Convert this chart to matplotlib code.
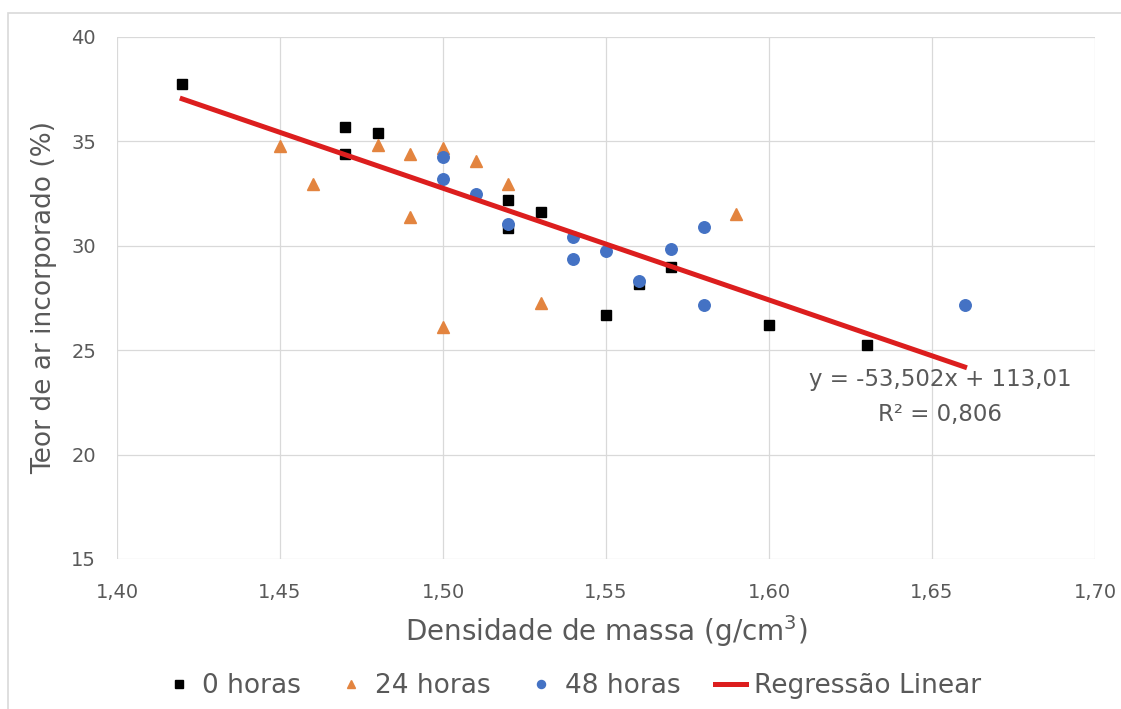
import numpy as np
import matplotlib
matplotlib.use('Agg')
import matplotlib.pyplot as plt
from matplotlib.patches import Rectangle

plt.rcParams['font.family'] = ['DejaVu Sans']

# 0 horas
x0 = [1.42, 1.47, 1.47, 1.48, 1.52, 1.52, 1.53, 1.55, 1.56, 1.57, 1.60, 1.63]
y0 = [37.75, 35.7, 34.4, 35.4, 32.2, 30.85, 31.6, 26.7, 28.15, 29.0, 26.2, 25.25]

# 24 horas
x24 = [1.45, 1.46, 1.48, 1.49, 1.49, 1.50, 1.50, 1.51, 1.52, 1.53, 1.59]
y24 = [34.8, 32.95, 34.85, 34.4, 31.4, 34.7, 26.1, 34.05, 32.95, 27.25, 31.5]

# 48 horas
x48 = [1.50, 1.50, 1.51, 1.52, 1.54, 1.54, 1.55, 1.56, 1.57, 1.58, 1.58, 1.66]
y48 = [34.25, 33.2, 32.5, 31.05, 30.4, 29.35, 29.75, 28.3, 29.85, 30.9, 27.15, 27.15]

# regressao
slope = -53.502
intercept = 113.01
x_reg = np.array([1.42, 1.66])
y_reg = slope * x_reg + intercept

xticks = [1.40, 1.45, 1.50, 1.55, 1.60, 1.65, 1.70]
yticks = [15, 20, 25, 30, 35, 40]

grey = '#595959'
grid = '#D9D9D9'

fig = plt.figure(figsize=(11.21, 7.09), dpi=100)
ax = fig.add_axes([117/1121, 1 - 559/709, (1095-117)/1121, (559-37)/709])

# borda externa do grafico
fig.patches.append(Rectangle((8/1121, -0.1), 1.2, 0.1 + (709-13)/709,
                             transform=fig.transFigure, fill=False,
                             edgecolor=grid, linewidth=1.2))

ax.plot(x0, y0, 's', color='black', markersize=7.8, label='0 horas', zorder=3)
ax.plot(x24, y24, '^', color='#E3843F', markersize=8.8, label='24 horas', zorder=3)
ax.plot(x48, y48, 'o', color='#4472C4', markersize=8.3, label='48 horas', zorder=3)
ax.plot(x_reg, y_reg, '-', color='#DC1E1E', linewidth=3.6,
        label='Regressão Linear', zorder=4)

ax.set_xlim(1.40, 1.70)
ax.set_ylim(15, 40)
ax.set_xticks(xticks)
ax.set_yticks(yticks)
ax.set_xticklabels([f'{t:.2f}'.replace('.', ',') for t in xticks])
ax.set_yticklabels([str(t) for t in yticks])
ax.tick_params(length=0, labelsize=14, colors=grey)
ax.tick_params(axis='x', pad=17)
ax.tick_params(axis='y', pad=15)
ax.grid(True, color=grid, linewidth=0.9)
ax.set_axisbelow(True)
for s in ax.spines.values():
    s.set_visible(False)

ax.set_xlabel('Densidade de massa (g/cm$^3$)', fontsize=20, color=grey, labelpad=8)
ax.set_ylabel('Teor de ar incorporado (%)', fontsize=19, color=grey, labelpad=10)

ax.text(1.6524, 23.62, 'y = -53,502x + 113,01', ha='center', va='center',
        fontsize=16.5, color=grey)
ax.text(1.6524, 21.9, 'R² = 0,806', ha='center', va='center',
        fontsize=16.5, color=grey)

leg = fig.legend(loc='center', bbox_to_anchor=(572/1121, 1 - 686/709), ncol=4,
                 frameon=False, fontsize=19, handlelength=1.2, handletextpad=0.3,
                 columnspacing=1.3, markerscale=0.7)
for t in leg.get_texts():
    t.set_color(grey)

fig.savefig('out.png', dpi=100)
